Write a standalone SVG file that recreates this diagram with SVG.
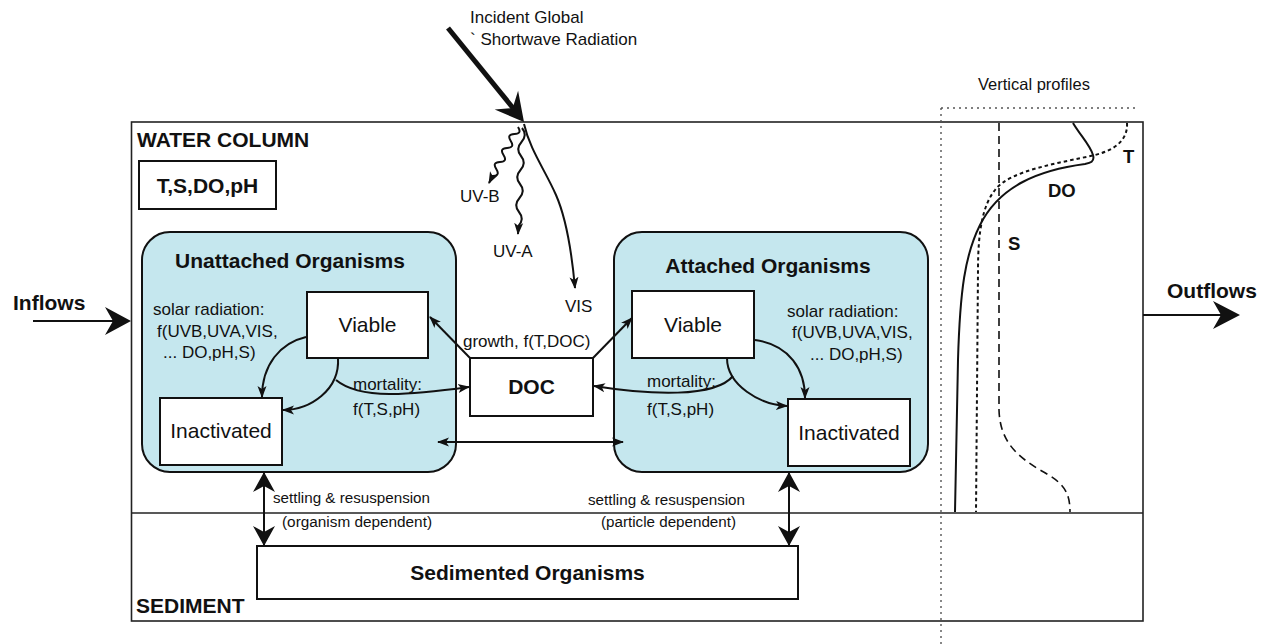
<svg xmlns="http://www.w3.org/2000/svg" width="1266" height="644" viewBox="0 0 1266 644">
<style>
.t{font-family:"Liberation Sans",Arial,Helvetica,sans-serif;fill:#111}
.b{font-weight:bold}
.box{fill:#fff;stroke:#111;stroke-width:2}
.grp{fill:#c5e7ee;stroke:#111;stroke-width:2}
.c{fill:none;stroke:#111;stroke-width:2}
.frame{fill:none;stroke:#222;stroke-width:1.6}
.dot{fill:none;stroke:#555;stroke-width:1.4;stroke-dasharray:2,4}
</style>
<defs>
<marker id="a" markerUnits="userSpaceOnUse" markerWidth="12" markerHeight="12" viewBox="0 0 12 12" refX="11" refY="6" orient="auto-start-reverse"><path d="M0,1.5 L12,6 L0,10.5 L3,6 Z" fill="#111"/></marker>
<marker id="A" markerUnits="userSpaceOnUse" markerWidth="20" markerHeight="22" viewBox="0 0 20 22" refX="19" refY="11" orient="auto-start-reverse"><path d="M0,0 L20,11 L0,22 L6,11 Z" fill="#111"/></marker>
</defs>

<g id="frame">
<rect class="frame" x="131.5" y="122" width="1011.5" height="499"/>
<line class="frame" x1="131.5" y1="513" x2="1143" y2="513"/>
<text class="t b" x="137" y="147" font-size="21">WATER COLUMN</text>
<text class="t b" x="136" y="613" font-size="21">SEDIMENT</text>
</g>

<g id="profiles">
<line class="dot" x1="941" y1="108" x2="941" y2="644"/>
<line class="dot" x1="941" y1="108" x2="1138" y2="108"/>
<text class="t" x="978" y="90" font-size="16.5">Vertical profiles</text>
<path d="M999,123 L999,410 C1000,440 1015,455 1040,470 C1062,482 1070,490 1070,512" fill="none" stroke="#111" stroke-width="1.6" stroke-dasharray="8,5"/>
<path d="M1127,123 C1128,140 1115,150 1095,155 C1060,163 1010,170 995,190 C983,205 978,230 978,270 L976,512" fill="none" stroke="#111" stroke-width="2" stroke-dasharray="3.5,3"/>
<path d="M1073,123 C1080,135 1090,145 1093,155 C1095,162 1090,163 1085,164 C1040,170 1000,185 980,225 C965,255 960,290 958,360 L955,512" fill="none" stroke="#111" stroke-width="2"/>
<text class="t b" x="1123" y="163" font-size="18.5">T</text>
<text class="t b" x="1048" y="197" font-size="18.5">DO</text>
<text class="t b" x="1008" y="250" font-size="18.5">S</text>
</g>

<g id="tsdoph">
<rect class="box" x="139" y="161" width="137" height="48"/>
<text class="t b" x="207.5" y="193" font-size="21" text-anchor="middle">T,S,DO,pH</text>
</g>

<g id="unattached">
<rect class="grp" x="142" y="232" width="314" height="240" rx="28"/>
<text class="t b" x="290" y="268" font-size="21" text-anchor="middle">Unattached Organisms</text>
<text class="t" x="153" y="315" font-size="17">solar radiation:</text>
<text class="t" x="157" y="337" font-size="17">f(UVB,UVA,VIS,</text>
<text class="t" x="163" y="358" font-size="17">... DO,pH,S)</text>
<text class="t" x="353" y="390" font-size="17">mortality:</text>
<text class="t" x="353" y="415" font-size="17">f(T,S,pH)</text>
</g>
<g id="viable-left">
<rect class="box" x="307" y="292" width="121" height="66"/>
<text class="t" x="367.5" y="332" font-size="21" text-anchor="middle">Viable</text>
</g>
<g id="inact-left">
<rect class="box" x="160" y="398" width="122" height="67"/>
<text class="t" x="221" y="438" font-size="21" text-anchor="middle">Inactivated</text>
</g>

<g id="attached">
<rect class="grp" x="614" y="232" width="314" height="240" rx="28"/>
<text class="t b" x="768" y="273" font-size="21" text-anchor="middle">Attached Organisms</text>
<text class="t" x="787" y="317" font-size="17">solar radiation:</text>
<text class="t" x="792" y="338" font-size="17">f(UVB,UVA,VIS,</text>
<text class="t" x="810" y="360" font-size="17">... DO,pH,S)</text>
<text class="t" x="647" y="387" font-size="17">mortality:</text>
<text class="t" x="647" y="415" font-size="17">f(T,S,pH)</text>
</g>
<g id="viable-right">
<rect class="box" x="632" y="291" width="122" height="67"/>
<text class="t" x="693" y="332" font-size="21" text-anchor="middle">Viable</text>
</g>
<g id="inact-right">
<rect class="box" x="788" y="399" width="122" height="67"/>
<text class="t" x="849" y="440" font-size="21" text-anchor="middle">Inactivated</text>
</g>

<g id="doc">
<rect class="box" x="470" y="358" width="123" height="58"/>
<text class="t b" x="531.5" y="394" font-size="21" text-anchor="middle">DOC</text>
</g>

<g id="sedimented">
<rect class="box" x="257" y="546" width="541" height="53"/>
<text class="t b" x="527.5" y="580" font-size="21" text-anchor="middle">Sedimented Organisms</text>
</g>

<g id="radiation">
<text class="t" x="470" y="23" font-size="17">Incident Global</text>
<text class="t" x="470" y="45" font-size="17">`  Shortwave Radiation</text>
<line x1="448" y1="28" x2="513" y2="108" stroke="#111" stroke-width="5"/>
<polygon points="524,122 494.7,109.6 512.7,108 518.1,90.8" fill="#111"/>
<path class="c" stroke-width="1.6" d="M518,127 Q522.4,133.7 514.4,134 T510.75,141 T507.1,148 T503.5,155 T499.9,162 T496.25,169 T492.6,176 L489,183" marker-end="url(#a)"/>
<path class="c" stroke-width="1.6" d="M522,128 Q527.75,135 521.5,142 T521,156 T520.5,170 T520,184 T519.5,198 T519,212 T518.5,226 L518,234" marker-end="url(#a)"/>
<path class="c" stroke-width="1.6" d="M524,124 C530,150 545,170 556,195 S572,255 575,288" marker-end="url(#a)"/>
<text class="t" x="460" y="202" font-size="17">UV-B</text>
<text class="t" x="493" y="257" font-size="17">UV-A</text>
<text class="t" x="565" y="312" font-size="17">VIS</text>
</g>

<g id="connectors">
<path class="c" d="M306,337 C280,343 262,365 262,397" marker-end="url(#a)"/>
<path class="c" d="M338,358 C340,390 310,410 283,410" marker-end="url(#a)"/>
<path class="c" d="M336,380 C360,400 410,395 469,387" marker-end="url(#a)"/>
<line class="c" x1="470" y1="358" x2="430" y2="317" marker-end="url(#a)"/>
<line class="c" x1="593" y1="358" x2="632" y2="318" marker-end="url(#a)"/>
<text class="t" x="463" y="347" font-size="17">growth, f(T,DOC)</text>
<path class="c" d="M727,358 C727,385 760,405 787,406" marker-end="url(#a)"/>
<path class="c" d="M733,376 C715,398 650,395 594,386" marker-end="url(#a)"/>
<path class="c" d="M755,340 C790,345 805,370 805,398" marker-end="url(#a)"/>
<line class="c" x1="438" y1="442" x2="623" y2="442" marker-start="url(#a)" marker-end="url(#a)"/>
<line class="c" x1="264" y1="473" x2="264" y2="545" marker-start="url(#A)" marker-end="url(#A)"/>
<line class="c" x1="789" y1="473" x2="789" y2="545" marker-start="url(#A)" marker-end="url(#A)"/>
<text class="t" x="273" y="503" font-size="15.5" textLength="157" lengthAdjust="spacingAndGlyphs">settling &amp; resuspension</text>
<text class="t" x="282" y="527" font-size="15.5" textLength="150" lengthAdjust="spacingAndGlyphs">(organism dependent)</text>
<text class="t" x="588" y="505" font-size="15.5" textLength="157" lengthAdjust="spacingAndGlyphs">settling &amp; resuspension</text>
<text class="t" x="601" y="527" font-size="15.5" textLength="135" lengthAdjust="spacingAndGlyphs">(particle dependent)</text>
<line x1="33" y1="321" x2="115" y2="321" stroke="#111" stroke-width="2"/>
<polygon points="131,321 105,307 113,321 105,335" fill="#111"/>
<line x1="1143" y1="315" x2="1224" y2="315" stroke="#111" stroke-width="2"/>
<polygon points="1240,315 1213,301 1221,315 1213,329" fill="#111"/>
<text class="t b" x="13" y="310" font-size="21">Inflows</text>
<text class="t b" x="1167" y="298" font-size="21">Outflows</text>
</g>
</svg>
